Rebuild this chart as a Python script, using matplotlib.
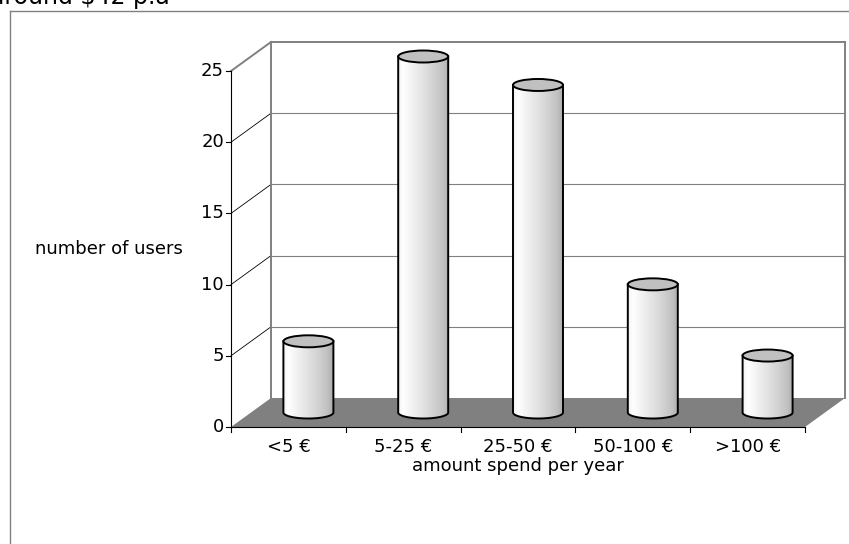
import numpy as np
import matplotlib
matplotlib.use('Agg')
import matplotlib.pyplot as plt
from matplotlib.patches import Polygon, Ellipse, PathPatch
from matplotlib.path import Path
from matplotlib.lines import Line2D
from matplotlib.colors import LinearSegmentedColormap

# ---- data ----
categories = ['<5 €', '5-25 €', '25-50 €', '50-100 €', '>100 €']
users = [5, 25, 23, 9, 4]
y_ticks = [0, 5, 10, 15, 20, 25]
title = r'around \$42 p.a'
y_label = 'number of users'
x_label = 'amount spend per year'

plt.rcParams['font.family'] = ['DejaVu Sans']

W, H = 849, 544
fig = plt.figure(figsize=(W / 100, H / 100), dpi=100)
ax = fig.add_axes([0, 0, 1, 1])
ax.axis('off')

# pixel geometry of the plot frame
X0, Y0 = 231, 427          # pixel of front origin
SX = 114.8                 # px per category
SY = 356 / 25              # px per unit
DX = 40 / SX               # depth offset (data units)
DY = 29 / SY

n = len(categories)
ymax = y_ticks[-1]
grey = '#808080'

# floor
ax.add_patch(Polygon([(0, 0), (n, 0), (n + DX, DY), (DX, DY)], closed=True,
                     facecolor=grey, edgecolor='none', zorder=1))

# back wall gridlines and left wall diagonals
for v in y_ticks[1:-1]:
    ax.plot([DX, n + DX], [v + DY, v + DY], color=grey, lw=0.8, zorder=1.5)
    ax.plot([0, DX], [v, v + DY], color='black', lw=0.6, zorder=1.5)
# wall edges
ax.plot([DX, DX], [DY, ymax + DY], color=grey, lw=1.4, zorder=1.6)
ax.plot([DX, n + DX], [ymax + DY, ymax + DY], color=grey, lw=1.4, zorder=1.6)
ax.plot([n + DX, n + DX], [DY, ymax + DY], color=grey, lw=1.4, zorder=1.6)
ax.plot([0, DX], [ymax, ymax + DY], color=grey, lw=1.4, zorder=1.6)

# axes lines
ax.plot([0, 0], [0, ymax], color='black', lw=0.8, zorder=2)
ax.plot([0, n], [0, 0], color='black', lw=0.8, zorder=2)
for v in y_ticks:
    ax.plot([-5 / SX, 0], [v, v], color='black', lw=0.8, zorder=2)
    ax.text(-7 / SX, v, str(v), ha='right', va='center', fontsize=13)
for i in range(n + 1):
    ax.plot([i, i], [0, -5 / SY], color='black', lw=0.8, zorder=2)
for i, c in enumerate(categories):
    ax.text(i + 0.5, -20 / SY, c, ha='center', va='center', fontsize=13)

ax.text(n / 2, -39 / SY, x_label, ha='center', va='center', fontsize=13)
ax.text((109 - X0) / SX, ymax / 2, y_label, ha='center', va='center', fontsize=13)

# cylinders
cmap = LinearSegmentedColormap.from_list('cyl', [
    (0.0, '#f2f2f2'), (0.1, '#ffffff'), (0.3, '#f0f0f0'), (0.5, '#e2e2e2'),
    (0.7, '#d2d2d2'), (0.9, '#c0c0c0'), (1.0, '#acacac')])
grad = np.linspace(0, 1, 256).reshape(1, -1)
cw = 50 / SX
eh = 12 / SY
for i, v in enumerate(users):
    cx = i + 0.5 + DX / 2
    cy0 = DY / 2
    top = cy0 + v
    th = np.linspace(np.pi, 2 * np.pi, 60)
    arc = np.column_stack([cx + cw / 2 * np.cos(th), cy0 + eh / 2 * np.sin(th)])
    verts = [(cx - cw / 2, top)] + [tuple(p) for p in arc] + [(cx + cw / 2, top), (cx - cw / 2, top)]
    codes = [Path.MOVETO] + [Path.LINETO] * (len(verts) - 2) + [Path.CLOSEPOLY]
    path = Path(verts, codes)
    clip = PathPatch(path, facecolor='none', edgecolor='black', lw=1.4, zorder=4)
    ax.add_patch(clip)
    im = ax.imshow(grad, cmap=cmap, extent=[cx - cw / 2, cx + cw / 2, cy0 - eh / 2, top],
                   aspect='auto', zorder=3, interpolation='bilinear')
    im.set_clip_path(clip)
    ax.add_patch(Ellipse((cx, top), cw, eh, facecolor='#c0c0c0', edgecolor='black',
                         lw=1.4, zorder=5))

ax.set_xlim(-X0 / SX, (W - X0) / SX)
ax.set_ylim(-(H - Y0) / SY, Y0 / SY)
ax.set_aspect('auto')

# outer frame (chart area border) and cut-off title
fig.add_artist(Line2D([9.5 / W, 9.5 / W], [0, 1 - 11 / H], transform=fig.transFigure,
                      color=grey, lw=1))
fig.add_artist(Line2D([9.5 / W, 1], [1 - 11 / H, 1 - 11 / H], transform=fig.transFigure,
                      color=grey, lw=1))
fig.text(-10 / W, 1 - 4 / H, title, ha='left', va='baseline', fontsize=17)

fig.savefig('out.png', dpi=100)
